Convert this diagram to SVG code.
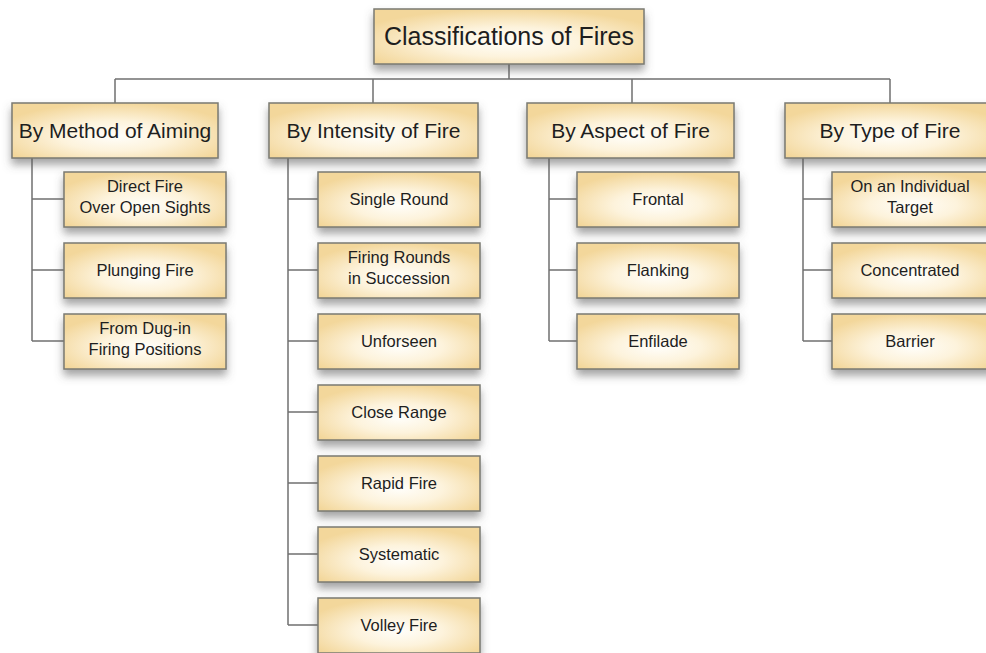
<svg xmlns="http://www.w3.org/2000/svg" width="986" height="653" viewBox="0 0 986 653">
<defs>
<radialGradient id="boxfill" cx="0.5" cy="0.6" r="0.6">
<stop offset="0" stop-color="#fffefa"/>
<stop offset="0.45" stop-color="#fdf3dc"/>
<stop offset="1" stop-color="#f3d79b"/>
</radialGradient>
<filter id="shadow" x="-10%" y="-20%" width="120%" height="160%">
<feDropShadow dx="0" dy="6" stdDeviation="4" flood-color="#5a5a5a" flood-opacity="0.55"/>
</filter>
<style>
.box{fill:url(#boxfill);stroke:#7a7a72;stroke-width:1.5;filter:url(#shadow)}
.t{font-family:"Liberation Sans",Arial,sans-serif;fill:#1e1e1e;text-anchor:middle}
.title{font-size:25px}
.head{font-size:21px}
.child{font-size:16.5px}
.conn{fill:none;stroke:#707070;stroke-width:1.5}
</style>
</defs>
<rect width="986" height="653" fill="#ffffff"/>
<g id="connectors" class="conn">
<path d="M509 64V79M115 79H890M115 79V103M373 79V103M632 79V103M890 79V103"/>
<path d="M32 158V341M32 199H64M32 270H64M32 341H64"/>
<path d="M288 158V625M288 199H318M288 270H318M288 341H318M288 412H318M288 483H318M288 554H318M288 625H318"/>
<path d="M549 158V341M549 199H577M549 270H577M549 341H577"/>
<path d="M803 158V341M803 199H832M803 270H832M803 341H832"/>
</g>
<g id="root"><rect class="box" x="374" y="9" width="270" height="55"/><text class="t title" x="509" y="45">Classifications of Fires</text></g>
<g id="method"><rect class="box" x="12" y="103" width="206" height="55"/><text class="t head" x="115" y="138">By Method of Aiming</text></g>
<g id="intensity"><rect class="box" x="269" y="103" width="209" height="55"/><text class="t head" x="373.5" y="138">By Intensity of Fire</text></g>
<g id="aspect"><rect class="box" x="527" y="103" width="207" height="55"/><text class="t head" x="630.5" y="138">By Aspect of Fire</text></g>
<g id="type"><rect class="box" x="785" y="103" width="210" height="55"/><text class="t head" x="890" y="138">By Type of Fire</text></g>

<g id="direct-fire"><rect class="box" x="64" y="172" width="162" height="55"/><text class="t child" x="145" y="192">Direct Fire</text><text class="t child" x="145" y="213">Over Open Sights</text></g>
<g id="plunging-fire"><rect class="box" x="64" y="243" width="162" height="55"/><text class="t child" x="145" y="276">Plunging Fire</text></g>
<g id="dug-in"><rect class="box" x="64" y="314" width="162" height="55"/><text class="t child" x="145" y="334">From Dug-in</text><text class="t child" x="145" y="355">Firing Positions</text></g>

<g id="single-round"><rect class="box" x="318" y="172" width="162" height="55"/><text class="t child" x="399" y="205">Single Round</text></g>
<g id="succession"><rect class="box" x="318" y="243" width="162" height="55"/><text class="t child" x="399" y="263">Firing Rounds</text><text class="t child" x="399" y="284">in Succession</text></g>
<g id="unforseen"><rect class="box" x="318" y="314" width="162" height="55"/><text class="t child" x="399" y="347">Unforseen</text></g>
<g id="close-range"><rect class="box" x="318" y="385" width="162" height="55"/><text class="t child" x="399" y="418">Close Range</text></g>
<g id="rapid-fire"><rect class="box" x="318" y="456" width="162" height="55"/><text class="t child" x="399" y="489">Rapid Fire</text></g>
<g id="systematic"><rect class="box" x="318" y="527" width="162" height="55"/><text class="t child" x="399" y="560">Systematic</text></g>
<g id="volley-fire"><rect class="box" x="318" y="598" width="162" height="55"/><text class="t child" x="399" y="631">Volley Fire</text></g>

<g id="frontal"><rect class="box" x="577" y="172" width="162" height="55"/><text class="t child" x="658" y="205">Frontal</text></g>
<g id="flanking"><rect class="box" x="577" y="243" width="162" height="55"/><text class="t child" x="658" y="276">Flanking</text></g>
<g id="enfilade"><rect class="box" x="577" y="314" width="162" height="55"/><text class="t child" x="658" y="347">Enfilade</text></g>

<g id="individual"><rect class="box" x="832" y="172" width="162" height="55"/><text class="t child" x="910" y="192">On an Individual</text><text class="t child" x="910" y="213">Target</text></g>
<g id="concentrated"><rect class="box" x="832" y="243" width="162" height="55"/><text class="t child" x="910" y="276">Concentrated</text></g>
<g id="barrier"><rect class="box" x="832" y="314" width="162" height="55"/><text class="t child" x="910" y="347">Barrier</text></g>
</svg>
